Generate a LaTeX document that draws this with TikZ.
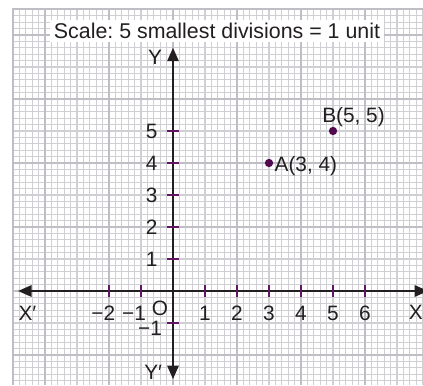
\documentclass[tikz,border=0pt]{standalone}
\usepackage{fontspec}
\setmainfont{Liberation Sans}
\usetikzlibrary{arrows.meta}
\frenchspacing
\definecolor{finegrid}{RGB}{208,208,212}
\definecolor{thickgrid}{RGB}{190,190,196}
\definecolor{tickpurple}{RGB}{100,20,100}
\definecolor{dotpurple}{RGB}{80,10,80}
\definecolor{axiscol}{RGB}{35,31,32}
\tikzset{
  finelines/.style={draw=finegrid, line width=1.0pt},
  thicklines/.style={draw=thickgrid, line width=2.2pt},
  axisline/.style={draw=axiscol, line width=1.3pt,
    {Triangle[length=0.42cm,width=0.36cm]}-{Triangle[length=0.42cm,width=0.36cm]}},
  tickmark/.style={draw=tickpurple, line width=1.2pt},
  lbl/.style={font=\fontsize{18.5}{20}\selectfont, text=axiscol, inner sep=0pt},
  ptdot/.style={circle, fill=dotpurple, minimum size=0.26cm, inner sep=0pt},
  titlebox/.style={fill=white, minimum width=10.44cm, minimum height=0.69cm, inner sep=0pt,
    font=\fontsize{19}{20}\selectfont, text=axiscol}
}
\begin{document}
\begin{tikzpicture}
\useasboundingbox (-5.40625,-2.9375) rectangle (7.8125,9.09375);
\fill[white] (-5.40625,-2.9375) rectangle (7.8125,9.09375);
% graph paper
\draw[finelines] (-5,-2.9375) grid[step=0.2] (7.8125,8.8);
\draw[thicklines] (-5,-2.9375) grid[step=2] (7.8125,8.8);
\draw[thicklines, line width=1.8pt] (-5,-2.9375) -- (-5,8.8) -- (7.8125,8.8);
% title
\node[titlebox] (title) at (1.375,8.125) {Scale: 5 smallest divisions = 1 unit};
% axes
\coordinate (xl) at (-4.84,0);
\coordinate (xr) at (7.97,0);
\coordinate (yt) at (0,7.6);
\coordinate (yb) at (0,-2.75);
\draw[axisline] (xl) -- (xr);
\draw[axisline] (yb) -- (yt);
% ticks
\foreach \x in {-2,-1,1,2,3,4,5,6} {
  \coordinate (tx\x a) at (\x,-0.19);
  \coordinate (tx\x b) at (\x,0.19);
  \draw[tickmark] (tx\x a) -- (tx\x b);
}
\foreach \y in {-1,1,2,3,4,5} {
  \coordinate (ty\y a) at (-0.2,\y);
  \coordinate (ty\y b) at (0.2,\y);
  \draw[tickmark] (ty\y a) -- (ty\y b);
}
% x tick labels
\foreach \x in {1,2,3,4,5,6} {
  \node[lbl, anchor=base] (lx\x) at (\x,-0.92) {\x};
}
\node[lbl, anchor=base east] (lxm2) at (-1.8,-0.92) {−2};
\node[lbl, anchor=base east] (lxm1) at (-0.84,-0.92) {−1};
% y tick labels
\foreach \y in {1,2,3,4,5} {
  \node[lbl, anchor=east] (ly\y) at (-0.48,\y) {\y};
}
\node[lbl, anchor=east] (lym1) at (-0.34,-1.17) {−1};
\node[lbl] (orig) at (-0.41,-0.55) {O};
% axis names
\node[lbl] (Xp) at (-4.55,-0.70) {X′};
\node[lbl, anchor=east] (X) at (7.81,-0.68) {X};
\node[lbl] (Y) at (-0.56,7.3) {Y};
\node[lbl] (Yp) at (-0.62,-2.53) {Y′};
% points
\node[ptdot] (A) at (3,4) {};
\node[ptdot] (B) at (5,5) {};
\node[lbl, anchor=west] (Alab) at (3.17,3.9) {A(3, 4)};
\node[lbl] (Blab) at (5.64,5.44) {B(5, 5)};
\end{tikzpicture}
\end{document}
